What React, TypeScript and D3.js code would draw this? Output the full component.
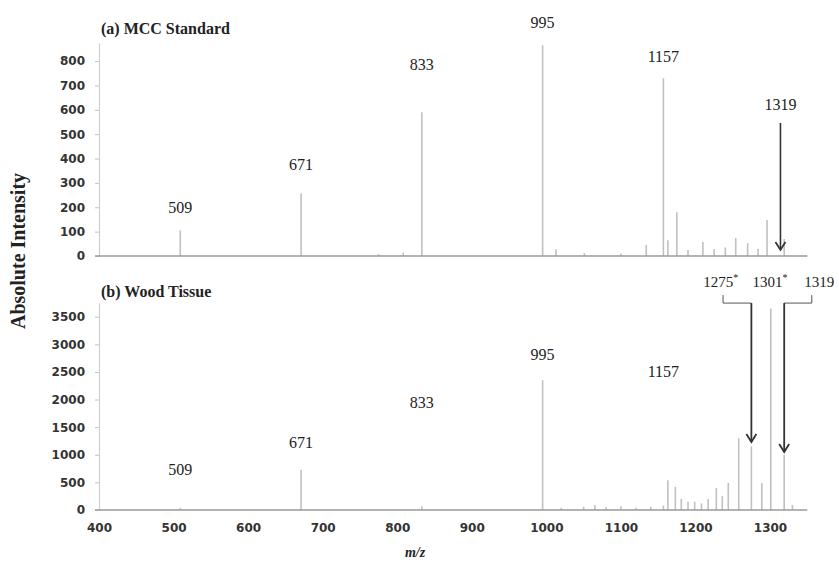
import React, { useEffect, useRef } from 'react';
import * as d3 from 'd3';

// ---- axis ticks ----
const mzTicks = [400, 500, 600, 700, 800, 900, 1000, 1100, 1200, 1300];
const mccTicks = [0, 100, 200, 300, 400, 500, 600, 700, 800];
const woodTicks = [0, 500, 1000, 1500, 2000, 2500, 3000, 3500];

// ---- (a) MCC Standard spectrum ----
const mccMz = [509, 671, 775, 808, 833, 995, 1013, 1051, 1100, 1134, 1157, 1163, 1175, 1190, 1210, 1225, 1240, 1254, 1270, 1284, 1296, 1319];
const mccIntensity = [105, 258, 8, 14, 590, 865, 28, 12, 10, 45, 730, 65, 180, 25, 57, 28, 35, 74, 53, 30, 148, 70];

// ---- (b) Wood Tissue spectrum ----
const woodMz = [509, 671, 833, 995, 1020, 1050, 1065, 1080, 1100, 1120, 1140, 1157, 1163, 1173, 1181, 1190, 1199, 1208, 1217, 1228, 1236, 1244, 1258, 1275, 1289, 1301, 1319, 1330];
const woodIntensity = [40, 730, 70, 2350, 40, 60, 90, 50, 70, 40, 60, 80, 540, 420, 200, 150, 150, 120, 200, 400, 250, 490, 1300, 1150, 490, 3650, 1000, 90];

// ---- peak annotations (m/z, label height in intensity units) ----
const mccLabels = ['509', '671', '833', '995', '1157', '1319'];
const mccLabelMz = [509, 671, 833, 995, 1157, 1314];
const mccLabelLevel = [176, 353, 763, 936, 796, 599];

const woodLabels = ['509', '671', '833', '995', '1157'];
const woodLabelMz = [509, 671, 833, 995, 1157];
const woodLabelLevel = [634, 1122, 1846, 2715, 2408];

const woodTopLabels = ['1275', '1301', '1319'];
const woodTopLabelMz = [1234, 1300, 1366];
const woodTopStar = [true, true, false];
const woodTopLabelLevel = 4037;

export default function App() {
  const ref = useRef<SVGSVGElement>(null);

  useEffect(() => {
    const svg = d3.select(ref.current);
    svg.selectAll('*').remove();
    const W = 839, H = 562;
    svg.append('rect').attr('width', W).attr('height', H).attr('fill', '#fff');

    const x = d3.scaleLinear().domain([400, 1350]).range([99, 807.3]);
    const yTop = d3.scaleLinear().domain([0, 875]).range([256, 42.8]);
    const yBot = d3.scaleLinear().domain([0, 3750]).range([510, 302.9]);

    const peakColor = '#c0c0c0';
    const arrowColor = '#333';
    const serif = '"Liberation Serif", "Times New Roman", serif';
    const sans = '"DejaVu Sans", sans-serif';

    function drawPanel(y: d3.ScaleLinear<number, number>, mz: number[], vals: number[], ticks: number[]) {
      const g = svg.append('g');
      const ax = g.append('g')
        .attr('transform', `translate(${x.range()[0]},0)`)
        .call(d3.axisLeft(y).tickValues(ticks).tickSizeInner(4).tickSizeOuter(0).tickPadding(10).tickFormat(d3.format('d')));
      ax.select('.domain').attr('stroke', '#cfcfcf').attr('stroke-width', 1.2);
      ax.selectAll('.tick line').attr('stroke', '#c4c4c4');
      ax.selectAll('.tick text')
        .attr('font-family', sans).attr('font-weight', 'bold').attr('font-size', 12).attr('fill', '#333');

      g.append('g').selectAll('line')
        .data(d3.zip(mz, vals))
        .join('line')
        .attr('x1', (d) => x(d[0])).attr('x2', (d) => x(d[0]))
        .attr('y1', y(0)).attr('y2', (d) => y(d[1]))
        .attr('stroke', peakColor).attr('stroke-width', 1.6);

      g.append('line')
        .attr('x1', x(400) - 4).attr('x2', x(1350))
        .attr('y1', y(0)).attr('y2', y(0))
        .attr('stroke', '#9a9a9a').attr('stroke-width', 1.5);
      return g;
    }

    function arrowHead(g: any, px: number, py: number) {
      g.append('path')
        .attr('d', `M${px - 5},${py - 8} L${px},${py} L${px + 5},${py - 8}`)
        .attr('fill', 'none').attr('stroke', arrowColor).attr('stroke-width', 1.8);
    }

    // (a)
    const gA = drawPanel(yTop, mccMz, mccIntensity, mccTicks);
    gA.append('text').attr('x', 101).attr('y', 34)
      .attr('font-family', serif).attr('font-weight', 'bold').attr('font-size', 16).attr('fill', '#222')
      .text('(a) MCC Standard');
    gA.selectAll('text.lab').data(d3.range(mccLabels.length)).join('text')
      .attr('class', 'lab')
      .attr('x', (i) => x(mccLabelMz[i])).attr('y', (i) => yTop(mccLabelLevel[i]))
      .attr('text-anchor', 'middle').attr('font-family', serif).attr('font-size', 16).attr('fill', '#222')
      .text((i) => mccLabels[i]);
    const ax1 = x(1314);
    gA.append('line').attr('x1', ax1).attr('x2', ax1).attr('y1', yTop(546)).attr('y2', yTop(25))
      .attr('stroke', arrowColor).attr('stroke-width', 1.6);
    arrowHead(gA, ax1, yTop(25));

    // (b)
    const gB = drawPanel(yBot, woodMz, woodIntensity, woodTicks);
    gB.append('text').attr('x', 101).attr('y', 297)
      .attr('font-family', serif).attr('font-weight', 'bold').attr('font-size', 16).attr('fill', '#222')
      .text('(b) Wood Tissue');
    gB.selectAll('text.lab').data(d3.range(woodLabels.length)).join('text')
      .attr('class', 'lab')
      .attr('x', (i) => x(woodLabelMz[i])).attr('y', (i) => yBot(woodLabelLevel[i]))
      .attr('text-anchor', 'middle').attr('font-family', serif).attr('font-size', 16).attr('fill', '#222')
      .text((i) => woodLabels[i]);
    const tl = gB.selectAll('text.top').data(d3.range(woodTopLabels.length)).join('text')
      .attr('class', 'top')
      .attr('x', (i) => x(woodTopLabelMz[i])).attr('y', yBot(woodTopLabelLevel))
      .attr('text-anchor', 'middle').attr('font-family', serif).attr('font-size', 15).attr('fill', '#222');
    tl.append('tspan').text((i) => woodTopLabels[i]);
    tl.filter((i) => woodTopStar[i]).append('tspan').attr('dy', -6).attr('font-size', 10).text('*');

    // bracket arrows
    const brTop = yBot(3892), brMid = yBot(3747);
    const b1x0 = x(1237), b1x1 = x(1275), b1tip = yBot(1231);
    gB.append('path').attr('d', `M${b1x0},${brTop} V${brMid} H${b1x1}`)
      .attr('fill', 'none').attr('stroke', '#555').attr('stroke-width', 1);
    gB.append('line').attr('x1', b1x1).attr('x2', b1x1).attr('y1', brMid).attr('y2', b1tip)
      .attr('stroke', arrowColor).attr('stroke-width', 1.8);
    arrowHead(gB, b1x1, b1tip);
    const b2x0 = x(1356), b2x1 = x(1319), b2tip = yBot(1050);
    gB.append('path').attr('d', `M${b2x0},${brTop} V${brMid} H${b2x1}`)
      .attr('fill', 'none').attr('stroke', '#555').attr('stroke-width', 1);
    gB.append('line').attr('x1', b2x1).attr('x2', b2x1).attr('y1', brMid).attr('y2', b2tip)
      .attr('stroke', arrowColor).attr('stroke-width', 1.8);
    arrowHead(gB, b2x1, b2tip);

    // x axis
    const xa = svg.append('g').attr('transform', `translate(0,${yBot(0)})`)
      .call(d3.axisBottom(x).tickValues(mzTicks).tickSize(0).tickPadding(13).tickFormat(d3.format('d')));
    xa.select('.domain').remove();
    xa.selectAll('.tick text')
      .attr('font-family', sans).attr('font-weight', 'bold').attr('font-size', 12).attr('fill', '#333');

    // axis titles
    svg.append('text')
      .attr('transform', 'translate(25,251) rotate(-90)')
      .attr('text-anchor', 'middle').attr('font-family', serif).attr('font-weight', 'bold')
      .attr('font-size', 20).attr('fill', '#222')
      .text('Absolute Intensity');
    svg.append('text')
      .attr('x', 415).attr('y', 557)
      .attr('text-anchor', 'middle').attr('font-family', serif).attr('font-weight', 'bold')
      .attr('font-style', 'italic').attr('font-size', 14).attr('fill', '#222')
      .text('m/z');
  }, []);

  return (
    <svg
      ref={ref}
      width={839}
      height={562}
      style={{ position: 'absolute', left: 0, top: 0, display: 'block' }}
    />
  );
}
